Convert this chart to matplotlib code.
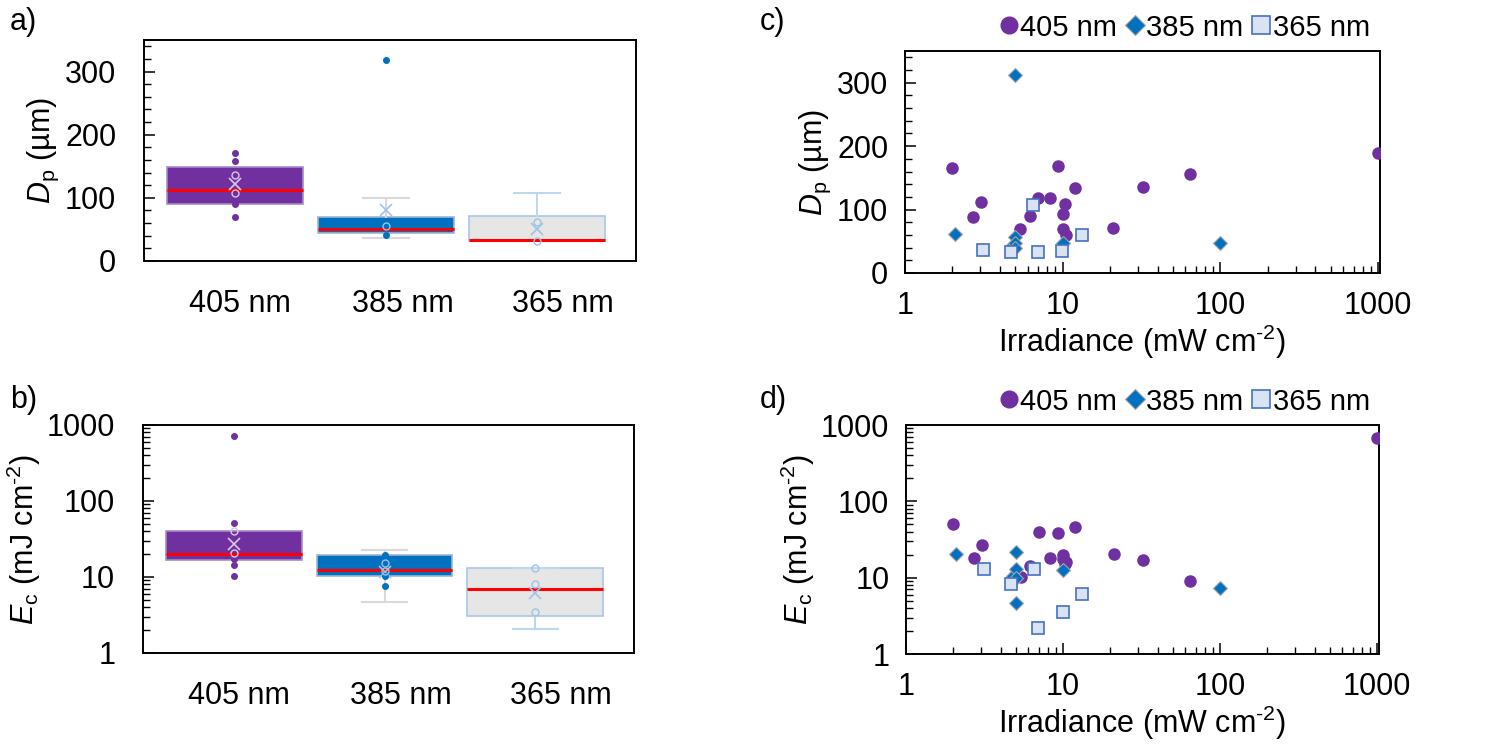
import numpy as np
import matplotlib.pyplot as plt
from matplotlib.ticker import LogLocator, NullFormatter, MultipleLocator, FixedLocator

plt.rcParams['font.family'] = ['Liberation Sans', 'DejaVu Sans']
plt.rcParams['mathtext.fontset'] = 'custom'
plt.rcParams['mathtext.rm'] = 'Liberation Sans'
plt.rcParams['mathtext.it'] = 'Liberation Sans:italic'
FS = 22

# ---- data ----
categories = ['405 nm', '385 nm', '365 nm']

# box statistics (Dp, um)
dp_q1 = [90, 45, 32]
dp_med = [113, 51, 34]
dp_q3 = [149, 70, 72]
dp_wlo = [90, 36, 32]
dp_whi = [149, 99, 108]
dp_mean = [122, 81, 50]
dp_filled = [[171, 159, 90, 70], [319, 41], []]
dp_open = [[136, 108], [56], [61, 31]]

# box statistics (Ec, mJ cm-2)
ec_q1 = [16.9, 10.2, 3.1]
ec_med = [20.3, 12.4, 7.0]
ec_q3 = [40.3, 19.2, 13.2]
ec_wlo = [16.9, 4.7, 2.1]
ec_whi = [40.3, 22.4, 13.2]
ec_mean = [27.2, 11.6, 6.2]
ec_filled = [[723, 51.4, 17.4, 14.2, 10.2], [19.2, 10.2, 7.5], []]
ec_open = [[40.6, 21.0], [15.3, 12.0], [13.2, 8.2, 3.5]]

# scatter data, panels c and d
irr_405 = [2.0, 2.7, 3.05, 5.4, 6.2, 7.0, 8.3, 9.3, 10.0, 10.0, 10.3, 10.5, 12.0, 21.0, 32.5, 64, 1000]
dp_405 = [166, 89, 112, 69, 90, 119, 119, 169, 93, 70, 109, 60, 134, 71, 135, 156, 189]
ec_405 = [50, 18.1, 26.7, 10.1, 14.3, 39.8, 18.2, 39, 19.8, 17.5, 15.2, 16.0, 46.7, 20.3, 17.2, 9.05, 684]

irr_385 = [2.07, 4.8, 5.0, 5.0, 5.0, 5.0, 10.0, 100.0]
dp_385 = [62, 42, 312, 57, 48, 39, 48, 48]
ec_385 = [20.6, 10.4, 21.4, 13.0, 10.0, 4.67, 12.5, 7.4]

irr_365 = [3.13, 4.69, 6.5, 6.95, 9.95, 13.3]
dp_365 = [37, 33, 107, 33, 34, 60]
ec_365 = [13.0, 8.3, 13.0, 2.16, 3.6, 6.1]

# ---- styles ----
purple = '#7030A0'
blue = '#0070C0'
box_face = [purple, blue, '#E7E6E6']
box_edge = ['#A78BC9', '#9DB5CF', '#A9C6E6']
whisk_col = [purple, '#D9D9D9', '#BDD7EE']
dot_col = [purple, blue, '#9DC3E6']
open_col = ['#D9C8EA', '#9DC3E6', '#9DC3E6']
box_pos = [1, 2, 3]
label_pos = [1.033, 2.11, 3.17]

fig = plt.figure(figsize=(15.1, 7.55), dpi=100)
W, H = 1510, 755


def rect(l, t, r, b):
    return [l / W, 1 - b / H, (r - l) / W, (b - t) / H]


ax_a = fig.add_axes(rect(144, 40, 636, 261))
ax_b = fig.add_axes(rect(143, 425, 634, 653))
ax_c = fig.add_axes(rect(905, 51, 1380, 273))
ax_d = fig.add_axes(rect(906, 425, 1379, 654))

dp_label = r'$\it{D}$$_\mathregular{p}$ (µm)'
ec_label = r'$\it{E}$$_\mathregular{c}$ (mJ cm$^{\text{-2}}$)'


def style_axes(ax):
    for s in ax.spines.values():
        s.set_linewidth(1.4)
    ax.tick_params(which='both', direction='in', labelsize=FS, top=False, right=False)
    ax.tick_params(which='major', length=8, width=1.1)
    ax.tick_params(which='minor', length=5, width=1.0)


def box_panel(ax, q1, med, q3, wlo, whi, mean, filled, opened):
    for i in range(3):
        st = dict(med=med[i], q1=q1[i], q3=q3[i], whislo=wlo[i], whishi=whi[i],
                  mean=mean[i], fliers=[])
        show_wh = i > 0
        ax.bxp([st], positions=[box_pos[i]], widths=0.9, patch_artist=True,
               showmeans=True, showfliers=False, showcaps=show_wh,
               boxprops=dict(facecolor=box_face[i], edgecolor=box_edge[i], linewidth=1.2),
               medianprops=dict(color='#FF0000', linewidth=2.2),
               whiskerprops=dict(color=whisk_col[i], linewidth=1.5, visible=show_wh),
               capprops=dict(color=whisk_col[i], linewidth=1.5),
               capwidths=0.3,
               meanprops=dict(marker='x', markeredgecolor=open_col[i], markersize=8,
                              markeredgewidth=1.2), zorder=2)
        if filled[i]:
            ax.plot([box_pos[i]] * len(filled[i]), filled[i], 'o', color=dot_col[i],
                    markersize=4, zorder=4)
        if opened[i]:
            ax.plot([box_pos[i]] * len(opened[i]), opened[i], 'o', mfc='none',
                    mec=open_col[i], markersize=5, mew=1.0, zorder=4)
    ax.set_xlim(0.397, 3.656)
    ax.xaxis.set_major_locator(FixedLocator(label_pos))
    ax.set_xticklabels(categories)
    style_axes(ax)
    ax.tick_params(axis='x', which='both', length=0, pad=20)


box_panel(ax_a, dp_q1, dp_med, dp_q3, dp_wlo, dp_whi, dp_mean, dp_filled, dp_open)
ax_a.set_ylim(0, 350)
ax_a.yaxis.set_major_locator(FixedLocator([0, 100, 200, 300]))
ax_a.yaxis.set_minor_locator(MultipleLocator(20))
ax_a.tick_params(axis='y', pad=20)
ax_a.set_ylabel(dp_label, fontsize=FS, labelpad=3)

box_panel(ax_b, ec_q1, ec_med, ec_q3, ec_wlo, ec_whi, ec_mean, ec_filled, ec_open)
ax_b.set_yscale('log')
ax_b.set_ylim(1, 1000)
ax_b.set_yticks([1, 10, 100, 1000])
ax_b.set_yticklabels(['1', '10', '100', '1000'])
ax_b.yaxis.set_minor_locator(LogLocator(base=10, subs=np.arange(2, 10)))
ax_b.yaxis.set_minor_formatter(NullFormatter())
ax_b.tick_params(axis='y', pad=20)
ax_b.set_ylabel(ec_label, fontsize=FS, labelpad=3)


def scatter_panel(ax, y405, y385, y365):
    ax.plot(irr_405, y405, 'o', color=purple, markersize=8, mec=purple, label='405 nm', zorder=3)
    ax.plot(irr_385, y385, 'D', color=blue, markersize=7, mec='#A5A5A5', mew=0.8,
            label='385 nm', zorder=4)
    ax.plot(irr_365, y365, 's', mfc='#DAE3F3', mec='#4472C4', markersize=8.5, mew=1.2,
            label='365 nm', zorder=5)
    ax.set_xscale('log')
    ax.set_xlim(1, 1030)
    ax.set_xticks([1, 10, 100, 1000])
    ax.set_xticklabels(['1', '10', '100', '1000'])
    ax.xaxis.set_minor_locator(LogLocator(base=10, subs=np.arange(2, 10)))
    ax.xaxis.set_minor_formatter(NullFormatter())
    style_axes(ax)
    ax.tick_params(axis='x', pad=13)
    ax.tick_params(axis='y', pad=12)
    ax.set_xlabel(r'Irradiance (mW cm$^{\text{-2}}$)', fontsize=FS, labelpad=1)
    ax.legend(loc='lower center', bbox_to_anchor=(0.58, 0.99), ncol=3, frameon=False,
              fontsize=21, handletextpad=-0.2, columnspacing=0.0, handlelength=1.2,
              markerscale=1.5, borderaxespad=0.0)


scatter_panel(ax_c, dp_405, dp_385, dp_365)
ax_c.set_ylim(0, 350)
ax_c.yaxis.set_major_locator(FixedLocator([0, 100, 200, 300]))
ax_c.yaxis.set_minor_locator(MultipleLocator(20))
ax_c.set_ylabel(dp_label, fontsize=FS, labelpad=3)

scatter_panel(ax_d, ec_405, ec_385, ec_365)
ax_d.set_yscale('log')
ax_d.set_ylim(1, 1000)
ax_d.set_yticks([1, 10, 100, 1000])
ax_d.set_yticklabels(['1', '10', '100', '1000'])
ax_d.yaxis.set_minor_locator(LogLocator(base=10, subs=np.arange(2, 10)))
ax_d.yaxis.set_minor_formatter(NullFormatter())
ax_d.set_ylabel(ec_label, fontsize=FS, labelpad=3)

for txt, x, y in [('a)', 10, 22), ('b)', 10, 400), ('c)', 760, 22), ('d)', 760, 400)]:
    fig.text(x / W, 1 - y / H, txt, fontsize=FS, va='center', ha='left')

fig.savefig('out.png', dpi=100)
